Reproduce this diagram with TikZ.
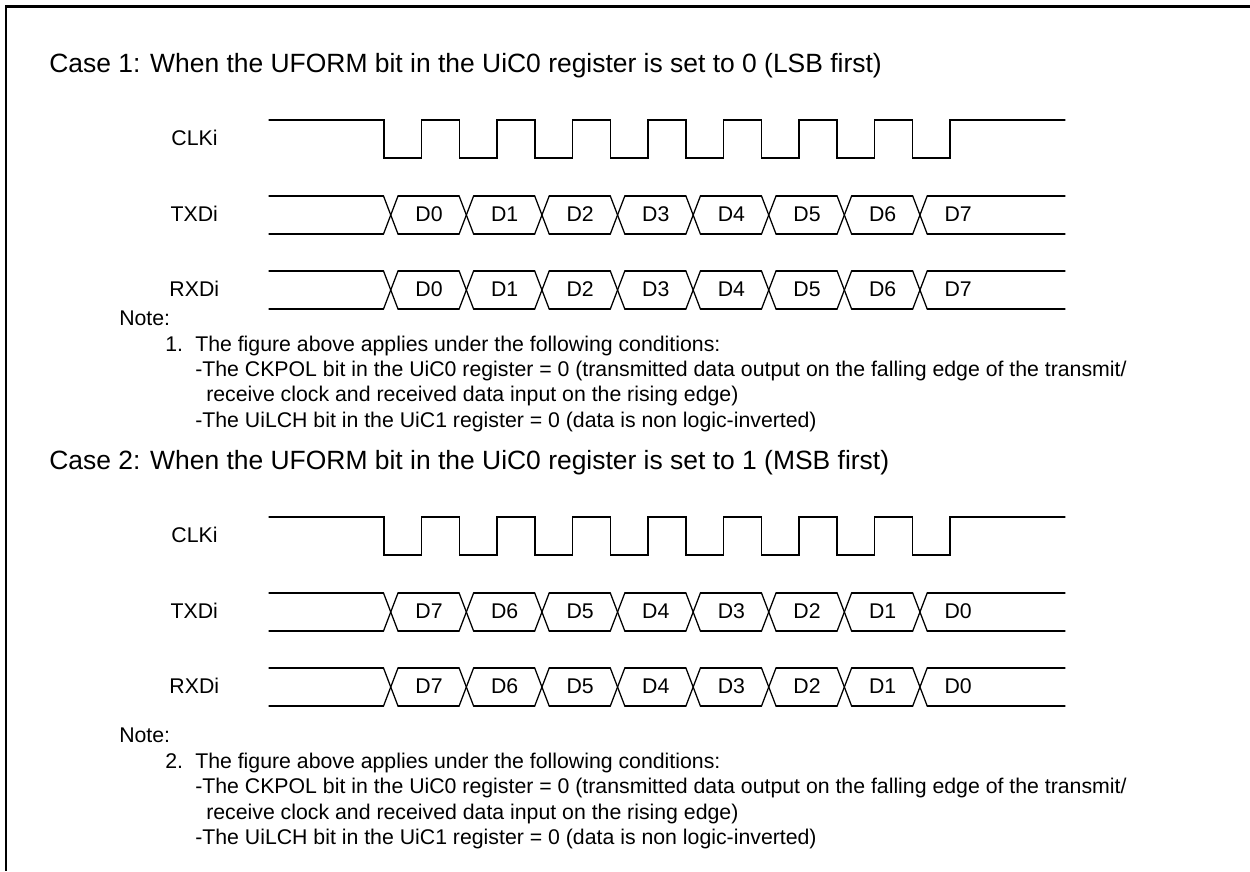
\documentclass[tikz,border=0pt]{standalone}
\usepackage{fontspec}
\setmainfont{Liberation Sans}

\tikzset{
	wave/.style={line width=0.9pt, line cap=round, line join=miter},
	frameline/.style={line width=2pt},
	casetext/.style={anchor=base west, inner sep=0pt, font=\fontsize{18.8}{22}\selectfont},
	notetext/.style={anchor=base west, inner sep=0pt, font=\fontsize{15.13}{18}\selectfont},
	siglabel/.style={anchor=base, inner sep=0pt, font=\fontsize{15.13}{18}\selectfont},
	bitlabel/.style={anchor=base, inner sep=0pt, font=\fontsize{15.13}{18}\selectfont},
}

% clock trace: name prefix
\newcommand{\clkwave}[1]{
	\node[siglabel] (#1clk) at (194.5,145) {CLKi};
	\draw[wave] (269,120) \foreach \i in {0,...,7} {
		-- ({384+75.5*\i},120) -- ({384+75.5*\i},158) -- ({421.5+75.5*\i},158) -- ({421.5+75.5*\i},120)
	} -- (1065,120);
}
% data trace: name prefix, label, top y, list of bits
\newcommand{\datawave}[4]{
	\node[siglabel] (#1name) at (194.3,#3+25) {#2};
	\draw[wave] (269,#3) -- (383.5,#3) (269,#3+38) -- (383.5,#3+38);
	\foreach \bit [count=\i from 0] in {#4} {
		\draw[wave] ({383.5+75.6*\i},#3) -- ({398+75.6*\i},#3+38);
		\draw[wave] ({383.5+75.6*\i},#3+38) -- ({398+75.6*\i},#3);
		\node[bitlabel] (#1\i) at ({429+75.6*\i},#3+25) {\bit};
	}
	\foreach \i in {0,...,6} {
		\draw[wave] ({398+75.6*\i},#3) -- ({459.1+75.6*\i},#3);
		\draw[wave] ({398+75.6*\i},#3+38) -- ({459.1+75.6*\i},#3+38);
	}
	\draw[wave] (927.2,#3) -- (1065,#3) (927.2,#3+38) -- (1065,#3+38);
}
% note text: name prefix, number, y of the Note line
\newcommand{\notelines}[3]{
	\node[notetext] (#1head) at (119,#3) {Note:};
	\node[notetext] (#1num) at (165,#3+26) {#2.};
	\node[notetext] (#1a) at (195,#3+26) {The figure above applies under the following conditions:};
	\node[notetext] (#1b) at (195,#3+51) {-The CKPOL bit in the UiC0 register = 0 (transmitted data output on the falling edge of the transmit/};
	\node[notetext] (#1c) at (206,#3+76.5) {receive clock and received data input on the rising edge)};
	\node[notetext] (#1d) at (195,#3+102) {-The UiLCH bit in the UiC1 register = 0 (data is non logic-inverted)};
}

\begin{document}
\begin{tikzpicture}[x=0.025cm, y=-0.025cm]
	\useasboundingbox (0,0) rectangle (1250,871);
	\coordinate (corner) at (6,6.7);
	\draw[frameline] (1250,6.7) -- (corner) -- (6,871);

	\node[casetext] (caseA) at (49,72) {Case 1: When the UFORM bit in the UiC0 register is set to 0 (LSB first)};
	\clkwave{a}
	\datawave{atx}{TXDi}{196}{D0,D1,D2,D3,D4,D5,D6,D7}
	\datawave{arx}{RXDi}{271}{D0,D1,D2,D3,D4,D5,D6,D7}
	\notelines{anote}{1}{325}

	\node[casetext] (caseB) at (49,469) {Case 2: When the UFORM bit in the UiC0 register is set to 1 (MSB first)};
	\begin{scope}[shift={(0,397)}]
		\clkwave{b}
		\datawave{btx}{TXDi}{196}{D7,D6,D5,D4,D3,D2,D1,D0}
		\datawave{brx}{RXDi}{271}{D7,D6,D5,D4,D3,D2,D1,D0}
	\end{scope}
	\notelines{bnote}{2}{742.5}
\end{tikzpicture}
\end{document}
